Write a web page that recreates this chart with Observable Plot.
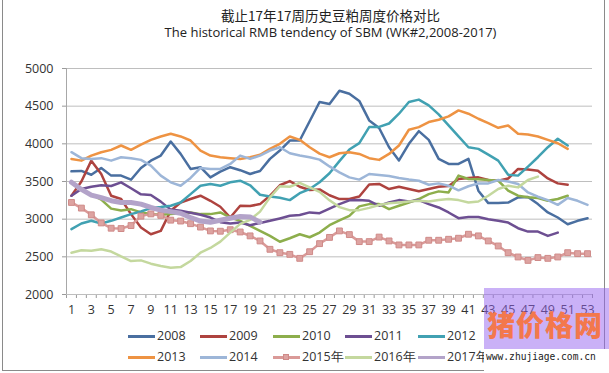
<!DOCTYPE html>
<html><head><meta charset="utf-8">
<script src="https://cdn.jsdelivr.net/npm/d3@7"></script>
<script src="https://cdn.jsdelivr.net/npm/@observablehq/plot@0.6"></script>
<style>
body{margin:0;background:#fff;}
#wrap{position:relative;width:609px;height:373px;overflow:hidden;background:#fff;font-family:"Open Sans",sans-serif;color:#333;}
#frame{position:absolute;left:2px;top:-2px;width:603px;height:373px;border:1px solid #8a8a8a;box-sizing:border-box;}
#chart{position:absolute;left:0;top:0;}
.t{position:absolute;left:0;width:609px;text-align:center;white-space:nowrap;padding-left:52px;box-sizing:border-box;}
#title{top:5px;font-family:"Noto Sans CJK SC",sans-serif;font-size:13.5px;color:#222;}
#subtitle{top:23px;font-family:"Open Sans",sans-serif;font-size:13px;color:#222;}
.lg{position:absolute;height:16px;font-size:12.5px;white-space:nowrap;line-height:16px;}
.lg .sw{position:absolute;left:0;top:7px;width:27px;height:2.5px;}
.lg .mk{position:absolute;left:10px;top:5px;width:6px;height:6px;background:#DDA3A1;border:1px solid #CF8A88;box-sizing:border-box;}
.lg .tx{position:absolute;left:29px;top:0;font-family:"Open Sans",sans-serif;}
#wm{position:absolute;left:484px;top:288px;width:125px;height:61px;background:rgba(150,100,240,0.5);}
#wmt{position:absolute;left:487px;top:307px;font-family:"Noto Sans CJK SC",sans-serif;font-weight:900;font-size:28px;line-height:34px;color:#F3784C;letter-spacing:1px;}
#wms{position:absolute;left:484px;top:349px;width:125px;height:24px;background:#fff;}
#wmu{position:absolute;left:486px;top:350px;font-family:"DejaVu Sans Mono",monospace;font-size:9.6px;line-height:14px;color:#222;}
</style></head>
<body><div id="wrap">
<div id="frame"></div>
<div id="chart"></div>
<div class="t" id="title">截止17年17周历史豆粕周度价格对比</div>
<div class="t" id="subtitle">The historical RMB tendency of SBM (WK#2,2008-2017)</div>
<div id="legend"></div>
<div id="wm"></div>
<div id="wmt">猪价格网</div>
<div id="wms"></div>
<div id="wmu">www.zhujiage.com.cn</div>
</div>
<script>
// ---- data ----
const s2008 = [3635,3640,3590,3680,3578,3578,3524,3680,3777,3844,4031,3867,3667,3690,3555,3630,3690,3650,3600,3640,3800,3911,4044,4044,4300,4555,4530,4705,4665,4570,4311,4210,3955,3780,4000,4168,4053,3800,3733,3733,3800,3378,3213,3213,3220,3289,3295,3200,3089,3022,2933,2978,3013];
const s2009 = [3311,3500,3777,3600,3311,3267,3067,2889,2800,2844,3111,3222,3267,3311,3244,3165,3022,3178,3175,3200,3311,3450,3505,3430,3387,3395,3318,3267,3267,3300,3460,3467,3400,3430,3400,3370,3400,3430,3440,3533,3545,3555,3520,3511,3540,3667,3660,3644,3540,3475,3457];
const s2010 = [3480,3400,3330,3260,3140,3115,3133,3090,3070,3060,3070,3080,3089,3067,3067,3089,3022,2978,2911,2844,2778,2700,2747,2800,2760,2822,2920,2985,3044,3170,3200,3200,3133,3178,3222,3267,3333,3369,3355,3578,3533,3530,3520,3511,3378,3311,3290,3280,3244,3267,3311];
const s2011 = [3311,3400,3430,3450,3440,3489,3410,3330,3320,3233,3127,3111,3085,3058,3022,2960,2942,2955,2920,2950,2978,3010,3045,3055,3090,3080,3140,3200,3250,3253,3244,3178,3222,3253,3235,3253,3200,3155,3089,3013,3030,3030,3000,2978,2955,2880,2835,2835,2778,2822];
const s2012 = [2867,2942,2978,2942,2978,3022,3067,3102,3147,3160,3178,3222,3333,3444,3467,3444,3489,3511,3450,3324,3300,3285,3253,3345,3400,3490,3610,3770,3925,4010,4222,4225,4270,4400,4555,4587,4511,4391,4244,4098,3955,3933,3857,3777,3590,3578,3698,3822,3955,4067,3978];
const s2013 = [3800,3777,3844,3889,3920,3978,3920,3990,4053,4098,4133,4098,4044,3911,3844,3822,3810,3800,3822,3855,3933,4000,4098,4053,3955,3870,3822,3875,3889,3866,3810,3787,3866,3978,4187,4222,4289,4320,4364,4444,4400,4333,4275,4213,4244,4133,4125,4098,4053,4008,3933];
const s2014 = [3889,3810,3800,3810,3777,3822,3810,3787,3711,3578,3489,3444,3547,3680,3667,3667,3733,3844,3800,3844,3911,3955,3875,3844,3822,3790,3700,3622,3555,3525,3600,3585,3572,3547,3527,3510,3457,3475,3444,3383,3437,3475,3475,3520,3500,3466,3355,3298,3253,3190,3280,3244,3190];
const s2015 = [3222,3147,3058,2950,2880,2875,2915,3040,3070,3050,2987,2975,2940,2895,2844,2840,2860,2830,2778,2711,2600,2555,2533,2480,2568,2675,2758,2844,2795,2702,2702,2762,2711,2658,2658,2658,2720,2720,2733,2747,2800,2778,2711,2644,2555,2498,2453,2490,2480,2498,2555,2542,2542];
const s2016 = [2555,2587,2580,2600,2570,2505,2444,2453,2409,2378,2355,2364,2444,2555,2618,2702,2822,2938,2990,3100,3289,3437,3430,3482,3422,3362,3250,3160,3120,3120,3150,3189,3211,3222,3235,3244,3235,3253,3267,3253,3222,3235,3311,3400,3444,3422,3520,3565];
const s2017 = [3490,3395,3320,3285,3245,3222,3222,3200,3155,3120,3100,3078,3022,2975,2960,2985,3012,3035,3030,2960];

const seriesNames = ["2008","2009","2010","2011","2012","2013","2014","2015年","2016年","2017年"];
const seriesValues = [s2008,s2009,s2010,s2011,s2012,s2013,s2014,s2015,s2016,s2017];
const yTicks = [2000,2500,3000,3500,4000,4500,5000];
const xTickLabels = [1,3,5,7,9,11,13,15,17,19,21,23,25,27,29,31,33,35,37,39,41,43,45,47,49,51,53];
const weekCount = 53;

// ---- styles ----
const colors = ["#4A6FA0","#AE433F","#8DAE4C","#6D4F92","#41A1B2","#EE9343","#9DB6D8","#DA9A98","#C4D89E","#B3A3C9"];
const widths = [2.5,2.5,2.5,2.5,2.5,2.5,2.5,2.5,2.5,5];

const rows = seriesNames.flatMap((name,i)=>seriesValues[i].map((v,j)=>({series:name, week:j+1, value:v})));
const boundaries = d3.range(0.5, weekCount + 1, 1);

const lineMarks = seriesNames.map((name,i)=>Plot.line(rows.filter(r=>r.series===name), {
  x:"week", y:"value", stroke: colors[i], strokeWidth: widths[i], strokeLinejoin:"round", strokeLinecap:"round"
}));

const chart = Plot.plot({
  width: 609, height: 325,
  marginLeft: 66, marginRight: 17, marginTop: 68, marginBottom: 31,
  style: {fontFamily: "'Open Sans', sans-serif", fontSize: "12.5px", color: "#333", background: "transparent", overflow: "visible"},
  x: {type: "linear", domain: [0.5, weekCount + 0.5], ticks: boundaries, tickSize: 4, tickFormat: () => "", label: null},
  y: {domain: [2000, 5000], ticks: yTicks, tickSize: 4, tickPadding: 9, label: null, tickFormat: d => String(d)},
  marks: [
    Plot.ruleY(yTicks, {stroke: "#BEBEBE", strokeWidth: 1}),
    Plot.ruleX([0.5], {stroke: "#A8A8A8", strokeWidth: 1}),
    Plot.text(xTickLabels, {x: d => d, text: d => String(d), frameAnchor: "bottom", dy: 19, fontSize: 12.5, fill: "#333"}),
    ...lineMarks.slice(0, 8),
    Plot.dot(rows.filter(r=>r.series==="2015年"), {x:"week", y:"value", symbol:"square", r:3.3, fill:"#DDA3A1", stroke:"#CF8A88", strokeWidth:1}),
    ...lineMarks.slice(8)
  ]
});
chart.querySelectorAll('[aria-label="x-axis tick"], [aria-label="y-axis tick"]').forEach(g=>g.setAttribute("stroke","#9a9a9a"));
document.getElementById("chart").appendChild(chart);

// ---- legend ----
const legendCols = [128, 200, 273, 345, 418];
const legendRows = [328, 349];
const leg = document.getElementById("legend");
seriesNames.forEach((name,i)=>{
  const d = document.createElement("div");
  d.className = "lg";
  d.style.left = legendCols[i % 5] + "px";
  d.style.top = legendRows[Math.floor(i / 5)] + "px";
  const sw = document.createElement("div");
  sw.className = "sw"; sw.style.background = colors[i];
  d.appendChild(sw);
  if (name === "2015年") { const mk = document.createElement("div"); mk.className = "mk"; d.appendChild(mk); }
  const tx = document.createElement("div");
  tx.className = "tx"; tx.textContent = name;
  d.appendChild(tx);
  leg.appendChild(d);
});
</script>
</body></html>
